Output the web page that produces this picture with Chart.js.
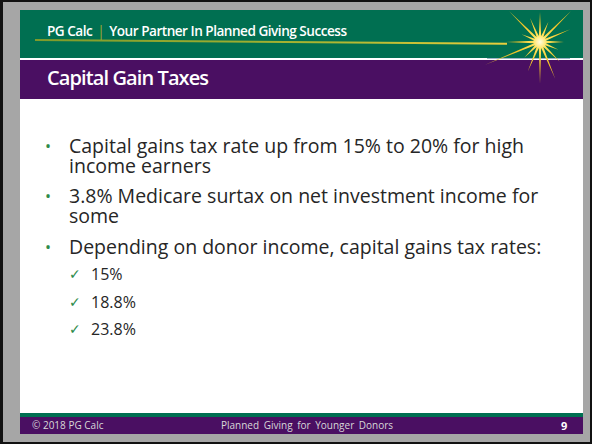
<!DOCTYPE html>
<html>
<head>
<meta charset="utf-8">
<script src="https://cdn.jsdelivr.net/npm/chart.js@4/dist/chart.umd.min.js"></script>
<style>
  html, body { margin: 0; padding: 0; }
  body { width: 592px; height: 444px; overflow: hidden; font-family: "Open Sans", "DejaVu Sans", sans-serif; }
  #frame { position: absolute; left: 0; top: 0; width: 592px; height: 444px; box-sizing: border-box;
           background: #a6a6a6; border-left: 3px solid #111; border-top: 2px solid #111;
           border-right: 2px solid #111; border-bottom: 2px solid #111; }
  #slide { position: absolute; left: 17px; top: 8px; width: 563px; height: 424px; background: #fff; overflow: hidden; }
  .abs { position: absolute; white-space: nowrap; }
  #hdr { left: 0; top: 0; width: 563px; height: 48px; background: #006f51; }
  #band { left: 0; top: 50px; width: 563px; height: 39px; background: #4a0f62; }
  #fgreen { left: 0; top: 403px; width: 563px; height: 4px; background: #006f51; }
  #fpurple { left: 0; top: 407px; width: 563px; height: 17px; background: #4a0f62; }
  #tag { left: 27px; top: 14px; font-size: 13.6px; line-height: 14px; font-weight: 600; color: #fff; letter-spacing: -0.5px; }
  #tag .sep { color: #a4ad2e; font-weight: 400; padding: 0 5px; }
  #title { left: 27px; top: 58px; font-size: 20px; line-height: 20px; font-weight: 600; color: #fff; letter-spacing: -0.9px; }
  #swoosh { left: 15px; top: 29px; width: 472px; height: 2px; transform-origin: 0 0; transform: rotate(0.45deg);
            background: linear-gradient(to right, #7f9b2b, #a9b431 60%, #e9cf3c); }
  #blue { left: 467px; top: 48px; width: 83px; height: 1px; background: #9db5c8; }
  #burst { left: 450px; top: -38px; width: 140px; height: 140px; }
  .line { font-size: 19.5px; line-height: 20px; color: #262626; left: 49px; }
  .dot { font-size: 16px; line-height: 20px; color: #2e8b4a; left: 25px; }
  .sub { font-size: 16px; line-height: 16px; color: #262626; left: 71px; }
  .chk { font-size: 14px; line-height: 16px; color: #2e8b4a; left: 49px; font-family: "DejaVu Sans", sans-serif; }
  .foot { top: 407px; height: 17px; line-height: 17px; font-size: 10px; color: #d8d8d8; }
</style>
</head>
<body>
<div id="frame">
  <div id="slide">
    <div class="abs" id="hdr"></div>
    <div class="abs" id="band"></div>
    <div class="abs" id="blue"></div>
    <div class="abs" id="swoosh"></div>
    <div class="abs" id="tag">PG Calc<span class="sep">|</span>Your Partner In Planned Giving Success</div>
    <div class="abs" id="title">Capital Gain Taxes</div>
    <div class="abs" id="burst"><canvas id="c" width="140" height="140"></canvas></div>

    <div class="abs dot" style="top:126px">•</div>
    <div class="abs line" style="top:126px">Capital gains tax rate up from 15% to 20% for high</div>
    <div class="abs line" style="top:146px">income earners</div>
    <div class="abs dot" style="top:176px">•</div>
    <div class="abs line" style="top:176px">3.8% Medicare surtax on net investment income for</div>
    <div class="abs line" style="top:196px">some</div>
    <div class="abs dot" style="top:227px">•</div>
    <div class="abs line" style="top:227px">Depending on donor income, capital gains tax rates:</div>
    <div id="subs"></div>

    <div class="abs" id="fgreen"></div>
    <div class="abs" id="fpurple"></div>
    <div class="abs foot" style="left:12px">© 2018 PG Calc</div>
    <div class="abs foot" style="left:201px; word-spacing:2px">Planned Giving for Younger Donors</div>
    <div class="abs foot" style="left:541px; color:#fff; font-weight:700; font-size:11px">9</div>
  </div>
</div>
<script>
// Tax rates listed on the slide
const taxRates = ["15%", "18.8%", "23.8%"];
const subTops = [256, 284, 311];

// Starburst ray lengths (px), clockwise from the top, and the inner radius between rays
const rayLengths = [30, 22, 44, 33, 24, 20, 28, 40, 42, 32, 22, 60, 34, 20, 44, 26];
const innerRadius = 6;

const subs = document.getElementById('subs');
taxRates.forEach((t, i) => {
  const c = document.createElement('div');
  c.className = 'abs chk'; c.style.top = subTops[i] + 'px'; c.textContent = '✓';
  const s = document.createElement('div');
  s.className = 'abs sub'; s.style.top = subTops[i] + 'px'; s.textContent = t;
  subs.appendChild(c); subs.appendChild(s);
});

const starData = [];
const starLabels = [];
rayLengths.forEach((r, i) => { starData.push(r, innerRadius); starLabels.push('r' + i, 'g' + i); });

new Chart(document.getElementById('c'), {
  type: 'radar',
  data: {
    labels: starLabels,
    datasets: [{
      data: starData,
      borderWidth: 0,
      pointRadius: 0,
      tension: 0,
      fill: true,
      backgroundColor: (ctx) => {
        const g = ctx.chart.ctx.createRadialGradient(70, 70, 0, 70, 70, 60);
        g.addColorStop(0, '#fffce0');
        g.addColorStop(0.12, '#ffe25a');
        g.addColorStop(0.4, '#f6c523');
        g.addColorStop(1, 'rgba(232,196,52,0.75)');
        return g;
      }
    }]
  },
  options: {
    responsive: false,
    animation: false,
    events: [],
    layout: { padding: 0 },
    plugins: { legend: { display: false }, tooltip: { enabled: false } },
    scales: {
      r: {
        display: false, min: 0, max: 70,
        pointLabels: { display: false },
        ticks: { display: false },
        grid: { display: false },
        angleLines: { display: false }
      }
    }
  }
});
</script>
</body>
</html>
